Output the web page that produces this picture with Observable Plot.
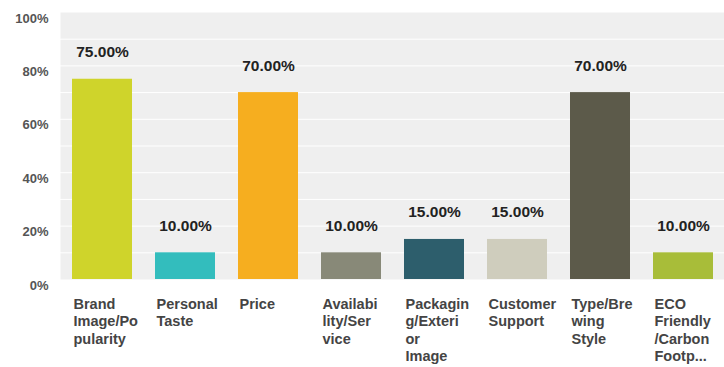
<!DOCTYPE html>
<html><head><meta charset="utf-8">
<script src="https://cdn.jsdelivr.net/npm/d3@7"></script>
<script src="https://cdn.jsdelivr.net/npm/@observablehq/plot@0.6"></script>
<style>body{margin:0;background:#fff;font-family:"Liberation Sans",Arial,sans-serif;}</style>
</head><body><div id="chart"></div>
<script>
const categories = ["Brand\nImage/Po\npularity","Personal\nTaste","Price","Availabi\nlity/Ser\nvice","Packagin\ng/Exteri\nor\nImage","Customer\nSupport","Type/Bre\nwing\nStyle","ECO\nFriendly\n/Carbon\nFootp..."];
const values = [75, 10, 70, 10, 15, 15, 70, 10];
const colors = ["#cfd42b","#33bdbd","#f6ae1f","#888978","#2d5e6c","#cfcdbd","#5c5a4a","#a8bd39"];
const yTicks = [0, 20, 40, 60, 80, 100];
const gridLines = [10, 20, 30, 40, 50, 60, 70, 80, 90];

const data = categories.map((c, i) => ({cat: c, value: values[i], color: colors[i]}));

const chart = Plot.plot({
  width: 724, height: 367,
  marginTop: 12, marginBottom: 88, marginLeft: 60, marginRight: 0,
  style: {fontFamily: "Liberation Sans, Arial, sans-serif", background: "#fff"},
  x: {domain: categories, paddingInner: 0.277, paddingOuter: 0.1385, axis: null},
  y: {domain: [0, 100], axis: null},
  marks: [
    Plot.frame({fill: "#efefef", stroke: null}),
    Plot.ruleY(gridLines, {stroke: "#ffffff", strokeWidth: 1}),
    Plot.barY(data, {x: "cat", y: "value", fill: "color", dx: 1}),
    Plot.text(data, {x: "cat", y: "value", text: d => d.value.toFixed(2) + "%", dy: -27, dx: 1, fontSize: 15.5, fontWeight: "bold", fill: "#222"}),
    Plot.text(data, {x: "cat", text: "cat", frameAnchor: "bottom", dy: 17, dx: -28, textAnchor: "start", lineAnchor: "top", lineHeight: 1.2, fontSize: 14.5, fontWeight: "bold", fill: "#444"}),
    Plot.text(yTicks, {y: d => d, text: d => d + "%", frameAnchor: "left", dx: -12, dy: 6, textAnchor: "end", fontSize: 13, fontWeight: "bold", fill: "#555"})
  ]
});
document.getElementById("chart").appendChild(chart);
</script></body></html>
